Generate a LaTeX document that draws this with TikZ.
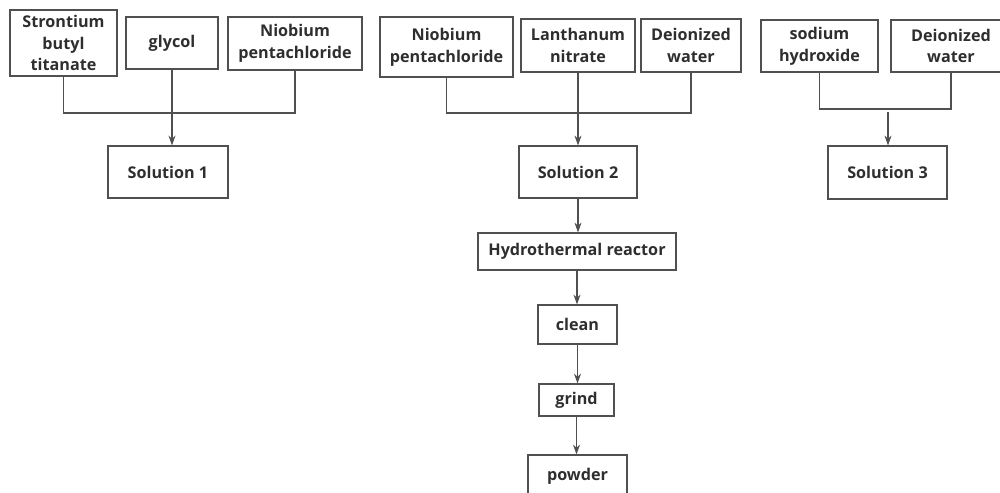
\documentclass[tikz,border=0pt]{standalone}
\usepackage{fontspec}
\setmainfont{Open Sans}
\usetikzlibrary{arrows.meta,positioning,calc}
\definecolor{linegray}{HTML}{505050}
\definecolor{textgray}{HTML}{2E2E2E}

\begin{document}
\begin{tikzpicture}[
  x=0.025cm, y=-0.025cm,
  box/.style  = {draw=linegray, line width=0.8pt, align=center,
                 inner sep=0pt, text=textgray,
                 font=\bfseries\fontsize{11.5}{15.5}\selectfont},
  link/.style = {draw=linegray, line width=0.8pt},
  arr/.style  = {-{Stealth[length=7pt,width=5pt]}, draw=linegray, line width=0.8pt},
]
\clip (0,0) rectangle (1000,493);
% first group
\node[box, minimum width=2.675cm, minimum height=1.65cm]  (sbt)    at (63.5,43)  {Strontium\\butyl\\titanate};
\node[box, minimum width=2.3cm,   minimum height=1.3cm]   (glycol) at (172,43)   {glycol};
\node[box, minimum width=3.35cm,  minimum height=1.325cm] (nbA)    at (295,43.5) {Niobium\\pentachloride};
\node[box, minimum width=3.0cm,   minimum height=1.3cm]   (sol1)   at (168,172)  {Solution 1};
% second group
\node[box, minimum width=3.325cm, minimum height=1.5cm]   (nbB)    at (446.5,47) {Niobium\\pentachloride};
\node[box, minimum width=2.85cm,  minimum height=1.325cm] (lanth)  at (578,45.5) {Lanthanum\\nitrate};
\node[box, minimum width=2.5cm,   minimum height=1.325cm] (deionB) at (691,45.5) {Deionized\\water};
\node[box, minimum width=2.95cm,  minimum height=1.3cm]   (sol2)   at (578,172)  {Solution 2};
% third group
\node[box, minimum width=2.925cm, minimum height=1.3cm]   (naoh)   at (819.5,46) {sodium\\hydroxide};
\node[box, minimum width=3.0cm,   minimum height=1.3cm]   (deionC) at (951,46)   {Deionized\\water};
\node[box, minimum width=2.975cm, minimum height=1.325cm] (sol3)   at (887.5,172.5) {Solution 3};
% process chain
\node[box, minimum width=4.95cm,  minimum height=0.925cm] (hydro)  at (577,251.5) {Hydrothermal reactor};
\node[box, minimum width=1.975cm, minimum height=0.975cm] (clean)  at (577.5,324.5) {clean};
\node[box, minimum width=1.875cm, minimum height=0.8cm]   (grind)  at (576.5,400) {grind};
\node[box, minimum width=2.475cm, minimum height=1.05cm]  (powder) at (577.5,476) {powder};

\coordinate (busA)  at (0,113);
\coordinate (busB)  at (0,113);
\coordinate (busC)  at (0,109);
\coordinate (dropC) at (888,112);

\draw[link] (sbt.south) |- (busA -| nbA.south) -- (nbA.south);
\draw[arr]  (glycol.south) -- (glycol.south |- sol1.north);
\draw[link] (nbB.south) |- (busB -| deionB.south) -- (deionB.south);
\draw[arr]  (lanth.south) -- (lanth.south |- sol2.north);
\draw[link] (naoh.south) |- (busC -| deionC.south) -- (deionC.south);
\draw[arr]  (dropC) -- (dropC |- sol3.north);

\draw[arr] (sol2.south)  -- (sol2.south |- hydro.north);
\draw[arr] (hydro.south) -- (hydro.south |- clean.north);
\draw[arr] (clean.south) -- (clean.south |- grind.north);
\draw[arr] (grind.south) -- (grind.south |- powder.north);
\end{tikzpicture}
\end{document}
